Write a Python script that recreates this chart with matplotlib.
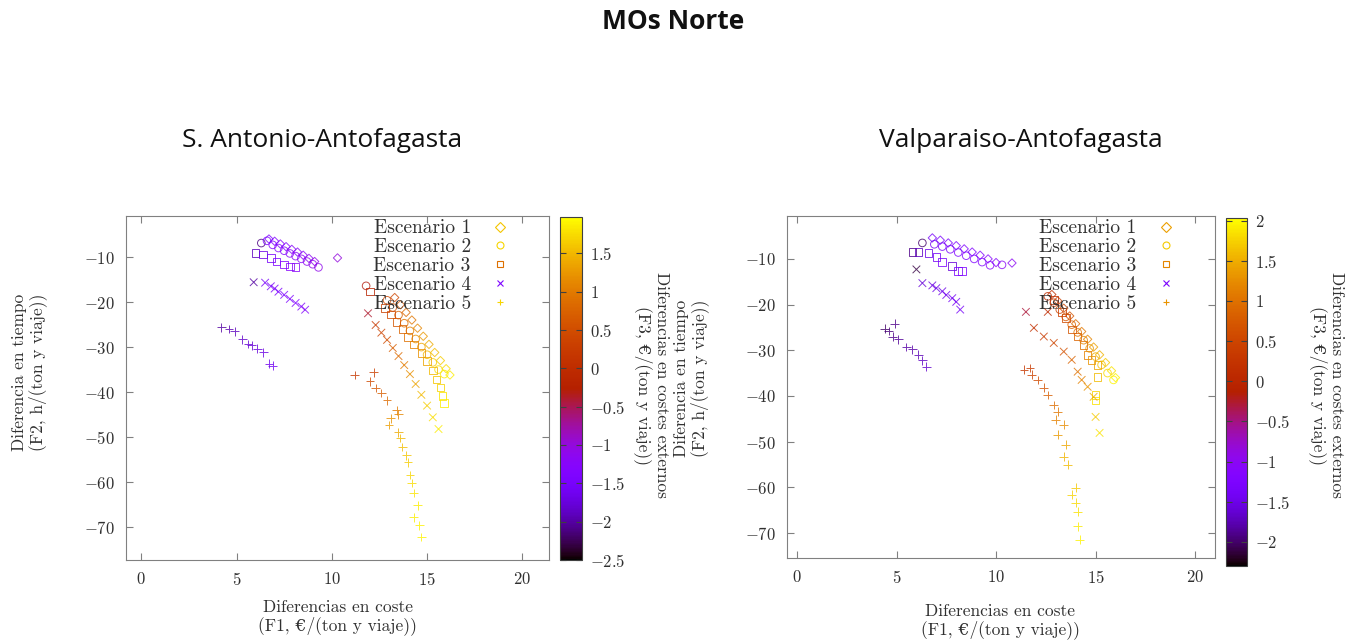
import matplotlib
matplotlib.use("Agg")
import matplotlib.pyplot as plt
import numpy as np
from matplotlib.colors import Normalize
from matplotlib.cm import ScalarMappable
from matplotlib.lines import Line2D
from matplotlib.ticker import FuncFormatter

plt.rcParams['font.family'] = ['cmr10', 'DejaVu Serif']
plt.rcParams['mathtext.fontset'] = 'cm'
plt.rcParams['axes.formatter.use_mathtext'] = True

# ---- S. Antonio-Antofagasta ----
sa_e1_x = [6.7, 7.0, 7.3, 7.6, 7.9, 8.2, 8.5, 8.8, 9.1, 10.3, 13.3, 13.6, 13.9, 14.2, 14.5, 14.8, 15.1, 15.4, 15.7, 16.0, 16.2]
sa_e1_y = [-6.0, -6.5, -7.1, -7.7, -8.3, -8.9, -9.6, -10.3, -11.0, -10.2, -19.0, -20.6, -22.3, -24.0, -25.8, -27.6, -29.4, -31.2, -33.0, -34.8, -36.2]
sa_e1_c = [-1.4, -1.35, -1.3, -1.3, -1.25, -1.2, -1.2, -1.15, -1.1, -1.0, 0.4, 0.6, 0.8, 0.95, 1.1, 1.25, 1.4, 1.55, 1.65, 1.75, 1.85]

sa_e2_x = [6.3, 6.6, 6.9, 7.2, 7.5, 7.8, 8.1, 8.4, 8.7, 9.0, 9.3, 11.8, 12.9, 13.2, 13.5, 13.8, 14.1, 14.4, 14.7, 15.0, 15.3, 15.6, 15.9]
sa_e2_y = [-6.9, -6.4, -7.3, -8.0, -8.6, -9.2, -9.8, -10.4, -11.0, -11.6, -12.3, -16.4, -19.6, -21.2, -22.9, -24.7, -26.4, -28.2, -30.0, -31.7, -33.4, -35.0, -36.0]
sa_e2_c = [-2.1, -1.4, -1.35, -1.3, -1.3, -1.25, -1.2, -1.2, -1.15, -1.1, -1.1, -0.3, 0.4, 0.55, 0.7, 0.9, 1.05, 1.2, 1.35, 1.5, 1.65, 1.75, 1.85]

sa_e3_x = [6.0, 6.4, 6.8, 7.1, 7.5, 7.8, 8.1, 12.0, 12.8, 13.1, 13.4, 13.7, 14.0, 14.3, 14.7, 15.0, 15.3, 15.5, 15.7, 15.8, 15.9]
sa_e3_y = [-9.1, -9.4, -10.2, -11.0, -11.7, -12.1, -12.2, -17.7, -21.3, -22.8, -24.4, -26.0, -27.7, -29.4, -31.3, -33.1, -35.2, -37.2, -39.0, -40.8, -42.4]
sa_e3_c = [-1.9, -1.7, -1.55, -1.4, -1.3, -1.25, -1.2, -0.2, 0.3, 0.45, 0.6, 0.75, 0.9, 1.05, 1.2, 1.35, 1.5, 1.6, 1.7, 1.8, 1.85]

sa_e4_x = [5.9, 6.5, 6.8, 7.0, 7.2, 7.5, 7.8, 8.1, 8.4, 8.6, 11.9, 12.3, 12.6, 12.9, 13.2, 13.5, 13.8, 14.1, 14.4, 14.7, 15.0, 15.3, 15.6]
sa_e4_y = [-15.6, -15.7, -16.5, -17.0, -17.7, -18.4, -19.3, -20.2, -21.0, -21.7, -22.5, -25.1, -26.8, -28.4, -30.2, -32.0, -34.0, -36.0, -38.2, -40.6, -43.0, -45.6, -48.2]
sa_e4_c = [-2.0, -1.5, -1.5, -1.45, -1.45, -1.4, -1.4, -1.35, -1.35, -1.3, -0.4, 0.2, 0.35, 0.5, 0.7, 0.85, 1.0, 1.2, 1.35, 1.5, 1.65, 1.75, 1.85]

sa_e5_x = [4.2, 4.6, 4.9, 5.3, 5.6, 5.8, 6.1, 6.4, 6.7, 6.9,
           11.2, 12.2, 12.0, 12.3, 12.6, 12.9, 13.4, 13.5, 13.1, 13.0, 13.5, 13.6, 13.7, 13.9, 14.0, 14.1, 14.2, 14.3, 14.5, 14.3, 14.6, 14.7]
sa_e5_y = [-25.6, -26.0, -26.5, -28.3, -29.3, -29.6, -30.4, -31.2, -33.7, -34.1,
           -36.2, -35.6, -37.6, -39.1, -40.2, -41.8, -44.0, -44.9, -45.8, -47.3, -48.9, -50.2, -52.2, -54.0, -55.6, -58.4, -60.2, -62.4, -65.1, -67.8, -69.6, -72.2]
sa_e5_c = [-2.0, -1.95, -1.9, -1.85, -1.8, -1.8, -1.75, -1.7, -1.65, -1.6,
           0.2, 0.3, 0.45, 0.6, 0.7, 0.85, 1.0, 1.1, 1.2, 1.3, 1.4, 1.5, 1.55, 1.6, 1.65, 1.7, 1.75, 1.8, 1.85, 1.85, 1.9, 1.9]

# ---- Valparaiso-Antofagasta ----
va_e1_x = [6.8, 7.2, 7.6, 8.0, 8.4, 8.8, 9.2, 9.6, 10.0, 10.8, 12.8, 13.1, 13.4, 13.7, 14.0, 14.3, 14.6, 14.9, 15.2, 15.5, 15.8, 16.0]
va_e1_y = [-5.4, -5.9, -6.5, -7.1, -7.8, -8.5, -9.2, -10.0, -10.8, -10.9, -17.8, -19.2, -20.8, -22.5, -24.2, -25.9, -27.6, -29.3, -31.0, -32.7, -34.5, -36.0]
va_e1_c = [-1.35, -1.3, -1.3, -1.25, -1.2, -1.2, -1.15, -1.1, -1.1, -1.0, 0.2, 0.4, 0.55, 0.7, 0.9, 1.05, 1.2, 1.4, 1.55, 1.7, 1.85, 1.95]

va_e2_x = [6.3, 6.9, 7.3, 7.7, 8.1, 8.5, 8.9, 9.3, 9.7, 10.3, 12.6, 12.9, 13.2, 13.5, 13.8, 14.1, 14.4, 14.7, 15.0, 15.3, 15.6, 15.9]
va_e2_y = [-6.5, -6.8, -7.3, -7.9, -8.6, -9.3, -10.0, -10.7, -11.4, -11.3, -18.2, -19.6, -21.1, -22.7, -24.4, -26.1, -27.8, -29.6, -31.4, -33.2, -35.0, -36.5]
va_e2_c = [-2.0, -1.4, -1.35, -1.3, -1.25, -1.2, -1.2, -1.15, -1.1, -1.05, 0.1, 0.35, 0.5, 0.7, 0.85, 1.0, 1.2, 1.35, 1.5, 1.65, 1.8, 1.95]

va_e3_x = [5.8, 6.1, 6.6, 7.0, 7.3, 7.8, 8.1, 8.3, 12.9, 13.3, 13.5, 13.8, 14.1, 14.4, 14.6, 14.8, 15.1, 15.1, 15.0, 15.0]
va_e3_y = [-8.5, -8.5, -8.7, -9.6, -10.7, -11.5, -12.6, -12.6, -19.0, -21.6, -23.0, -25.5, -27.0, -28.8, -31.0, -32.1, -33.2, -35.8, -39.8, -41.0]
va_e3_c = [-1.9, -1.7, -1.5, -1.4, -1.3, -1.6, -1.3, -1.25, 0.2, 0.4, 0.55, 0.7, 0.85, 1.0, 1.15, 1.3, 1.45, 1.6, 1.75, 1.85]

va_e4_x = [6.0, 6.3, 6.8, 7.0, 7.3, 7.5, 7.8, 8.0, 8.2, 11.5, 12.6, 11.9, 12.4, 12.9, 13.4, 13.8, 14.1, 14.3, 14.6, 14.9, 15.0, 15.2]
va_e4_y = [-12.3, -15.3, -15.8, -16.4, -17.1, -17.9, -18.6, -19.4, -21.1, -21.6, -21.6, -25.1, -27.0, -28.4, -30.3, -32.1, -34.7, -36.5, -38.0, -40.2, -44.6, -48.1]
va_e4_c = [-2.1, -1.6, -1.55, -1.5, -1.5, -1.45, -1.4, -1.4, -1.35, -0.3, 0.1, 0.2, 0.35, 0.5, 0.65, 0.85, 1.0, 1.15, 1.3, 1.5, 1.7, 1.85]

va_e5_x = [4.4, 4.6, 4.9, 4.8, 5.1, 5.5, 5.8, 6.1, 6.3, 6.5,
           11.4, 11.7, 11.8, 12.1, 12.4, 12.6, 12.9, 13.1, 13.0, 13.4, 13.1, 13.5, 13.4, 13.6, 14.0, 13.8, 14.0, 14.1, 14.1, 14.2]
va_e5_y = [-25.3, -25.8, -24.2, -27.0, -27.6, -29.3, -29.8, -31.0, -32.2, -33.6,
           -34.3, -33.9, -35.4, -36.5, -38.2, -39.8, -42.0, -43.5, -45.2, -46.3, -48.5, -50.7, -53.3, -55.1, -60.1, -61.6, -63.4, -65.4, -68.6, -71.5]
va_e5_c = [-2.0, -1.95, -1.9, -1.9, -1.85, -1.8, -1.8, -1.75, -1.7, -1.65,
           0.3, 0.35, 0.45, 0.55, 0.65, 0.8, 0.95, 1.05, 1.15, 1.25, 1.35, 1.45, 1.55, 1.6, 1.7, 1.75, 1.8, 1.85, 1.9, 1.95]

scenarios = ['Escenario 1', 'Escenario 2', 'Escenario 3', 'Escenario 4', 'Escenario 5']
markers = ['D', 'o', 's', 'x', '+']
sizes = [18, 30, 30, 30, 40]

x_ticks = [0, 5, 10, 15, 20]
y_ticks = [-10, -20, -30, -40, -50, -60, -70]
sa_cticks = [-2.5, -2, -1.5, -1, -0.5, 0, 0.5, 1, 1.5]
va_cticks = [-2, -1.5, -1, -0.5, 0, 0.5, 1, 1.5, 2]

cmap = plt.get_cmap('gnuplot')
fmt = FuncFormatter(lambda v, _: f"${v:g}$")
frame_col = '#808080'
text_col = '#303030'


def panel(ax, cax, series, norm, cticks, xlim, ylim, legend_c):
    for (x, y, c), m, s in zip(series, markers, sizes):
        cols = cmap(norm(np.array(c)))
        if m in ('x', '+'):
            ax.scatter(x, y, marker=m, c=cols, s=s, linewidths=0.7, alpha=0.8)
        else:
            ax.scatter(x, y, marker=m, facecolors='none', edgecolors=cols, s=s, linewidths=0.7, alpha=0.8)
    ax.set_xlim(*xlim)
    ax.set_ylim(*ylim)
    ax.set_xticks(x_ticks)
    ax.set_yticks(y_ticks)
    ax.xaxis.set_major_formatter(fmt)
    ax.yaxis.set_major_formatter(fmt)
    ax.tick_params(direction='in', top=True, right=True, length=5, color=frame_col,
                   labelsize=12, labelcolor=text_col, pad=8)
    for sp in ax.spines.values():
        sp.set_color(frame_col)
    handles = [Line2D([], [], linestyle='none', marker=m, markersize=5, markeredgewidth=0.8,
                      markerfacecolor='none', markeredgecolor=cmap(norm(lc)))
               for m, lc in zip(markers, legend_c)]
    ax.legend(handles, scenarios, loc='upper right', bbox_to_anchor=(0.93, 0.99),
              frameon=False, markerfirst=False, fontsize=14, labelspacing=0.05,
              handlelength=2.0, handletextpad=0.5, borderpad=0, borderaxespad=0,
              labelcolor=text_col)

    cb = plt.colorbar(ScalarMappable(norm=norm, cmap=cmap), cax=cax)
    cb.set_ticks(cticks)
    cb.ax.yaxis.set_major_formatter(fmt)
    cb.ax.tick_params(direction='in', left=True, right=True, length=4, color='#404040',
                      labelsize=12, labelcolor=text_col, pad=6)
    cb.outline.set_edgecolor('#404040')


fig = plt.figure(figsize=(13.49, 6.43), dpi=100)

ax1 = fig.add_axes([0.0934, 0.129, 0.3136, 0.535])
cax1 = fig.add_axes([0.4151, 0.129, 0.0163, 0.5334])
ax2 = fig.add_axes([0.5834, 0.1322, 0.3173, 0.5319])
cax2 = fig.add_axes([0.9088, 0.1198, 0.0156, 0.541])

sa_series = [(sa_e1_x, sa_e1_y, sa_e1_c), (sa_e2_x, sa_e2_y, sa_e2_c), (sa_e3_x, sa_e3_y, sa_e3_c),
             (sa_e4_x, sa_e4_y, sa_e4_c), (sa_e5_x, sa_e5_y, sa_e5_c)]
va_series = [(va_e1_x, va_e1_y, va_e1_c), (va_e2_x, va_e2_y, va_e2_c), (va_e3_x, va_e3_y, va_e3_c),
             (va_e4_x, va_e4_y, va_e4_c), (va_e5_x, va_e5_y, va_e5_c)]

panel(ax1, cax1, sa_series, Normalize(-2.5, 1.97), sa_cticks, (-0.8, 21.4), (-77.3, -0.9),
      [1.6, 1.7, 0.9, -1.4, 1.7])
panel(ax2, cax2, va_series, Normalize(-2.3, 2.03), va_cticks, (-0.5, 21.0), (-75.5, -0.6),
      [1.4, 1.7, 1.2, -1.3, 1.3])

# titles
fig.text(0.499, 0.966, 'MOs Norte', ha='center', va='center', family='Open Sans',
         fontweight='bold', fontsize=19, color='#111111')
fig.text(0.2387, 0.782, 'S. Antonio-Antofagasta', ha='center', va='center',
         family='Open Sans', fontsize=19, color='#111111')
fig.text(0.757, 0.782, 'Valparaiso-Antofagasta', ha='center', va='center',
         family='Open Sans', fontsize=19, color='#111111')

xlab = 'Diferencias en coste\n(F1, €/(ton y viaje))'
ylab = 'Diferencia en tiempo\n(F2, h/(ton y viaje))'
clab = 'Diferencias en costes externos\n(F3, €/(ton y viaje))'
fig.text(0.2502, 0.040, xlab, ha='center', va='center', fontsize=12.5, color=text_col, linespacing=1.1)
fig.text(0.7413, 0.034, xlab, ha='center', va='center', fontsize=12.5, color=text_col, linespacing=1.1)
fig.text(0.0215, 0.4214, ylab, ha='center', va='center', rotation=90, fontsize=12.5, color=text_col, linespacing=1.1)
fig.text(0.5125, 0.412, ylab, ha='center', va='center', rotation=90, fontsize=12.5, color=text_col, linespacing=1.1)
fig.text(0.4833, 0.401, clab, ha='center', va='center', rotation=270, fontsize=12.5, color=text_col, linespacing=1.1)
fig.text(0.9837, 0.401, clab, ha='center', va='center', rotation=270, fontsize=12.5, color=text_col, linespacing=1.1)

fig.savefig('out.png', dpi=100)
